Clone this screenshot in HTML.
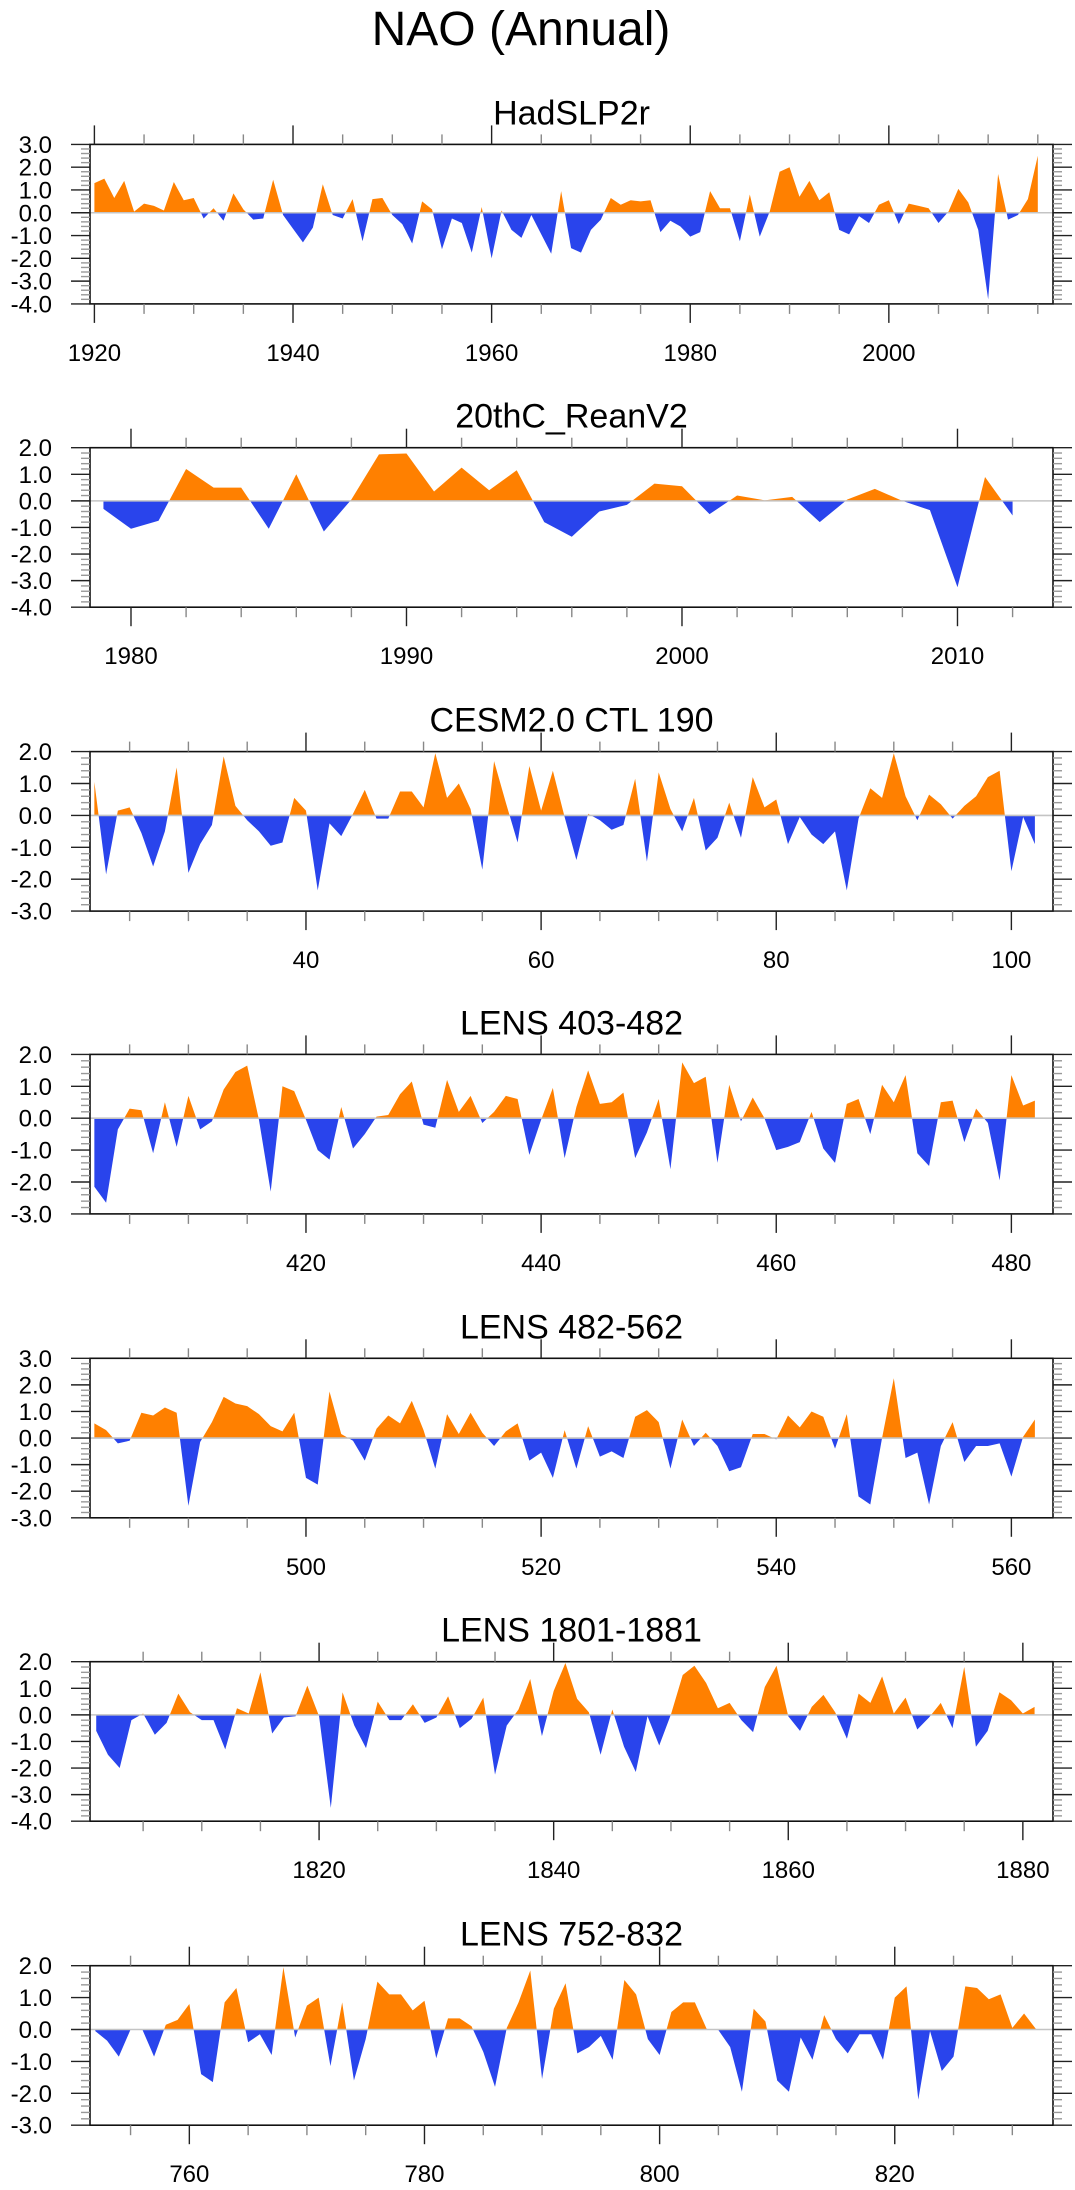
<!DOCTYPE html>
<html><head><meta charset="utf-8"><title>NAO (Annual)</title>
<style>
html,body{margin:0;padding:0;background:#fff;}
svg{display:block;font-family:"Liberation Sans",Arial,sans-serif;}
</style></head>
<body>
<svg id="chart" xmlns="http://www.w3.org/2000/svg" width="1075" height="2190" viewBox="0 0 1075 2190">
<rect x="0" y="0" width="1075" height="2190" fill="#fff"/>
<text x="521" y="45" font-size="48" text-anchor="middle" fill="#000">NAO (Annual)</text>
</svg>
<script>
// ---- data ----
const panelTitles = ["HadSLP2r","20thC_ReanV2","CESM2.0 CTL 190","LENS 403-482","LENS 482-562","LENS 1801-1881","LENS 752-832"];
const startYears = [1920,1979,22,402,482,1801,752];
const hadslp2r = [1.3,1.5,0.65,1.4,0.05,0.4,0.3,0.1,1.35,0.55,
0.65,-0.25,0.2,-0.35,0.85,0.15,-0.3,-0.25,1.45,-0.1,
-0.7,-1.3,-0.65,1.25,-0.1,-0.25,0.6,-1.25,0.6,0.65,
-0.1,-0.5,-1.35,0.5,0.15,-1.6,-0.25,-0.45,-1.75,0.25,
-2.0,0.1,-0.75,-1.1,-0.1,-0.95,-1.8,0.95,-1.55,-1.75,
-0.75,-0.3,0.65,0.35,0.55,0.5,0.55,-0.85,-0.35,-0.6,
-1.05,-0.85,0.95,0.2,0.2,-1.25,0.8,-1.05,0.05,1.8,
2.0,0.7,1.4,0.55,0.9,-0.75,-0.95,-0.15,-0.45,0.35,
0.55,-0.5,0.4,0.3,0.2,-0.45,0.05,1.05,0.45,-0.75,
-3.8,1.7,-0.3,-0.1,0.6,2.5];
const reanV2 = [-0.3,-1.05,-0.75,1.2,0.5,0.5,-1.05,1.0,-1.15,0.05,
1.75,1.78,0.35,1.25,0.4,1.15,-0.8,-1.35,-0.4,-0.15,
0.65,0.55,-0.5,0.2,0.02,0.15,-0.8,0.05,0.45,0.0,
-0.35,-3.25,0.9,-0.55];
const cesmCtl = [1.05,-1.85,0.15,0.25,-0.55,-1.6,-0.5,1.5,-1.8,-0.9,
-0.3,1.85,0.3,-0.15,-0.5,-0.95,-0.85,0.55,0.15,-2.35,
-0.25,-0.65,0.05,0.8,-0.1,-0.1,0.75,0.75,0.25,1.95,
0.55,1.0,0.2,-1.7,1.7,0.4,-0.85,1.55,0.15,1.4,
-0.05,-1.4,0.05,-0.15,-0.45,-0.3,1.15,-1.45,1.35,0.2,
-0.5,0.55,-1.1,-0.7,0.4,-0.7,1.2,0.25,0.5,-0.9,
-0.05,-0.6,-0.9,-0.5,-2.35,-0.1,0.85,0.55,1.95,0.6,
-0.15,0.65,0.35,-0.1,0.3,0.6,1.2,1.4,-1.75,-0.05,
-0.9];
const lens403 = [-2.15,-2.65,-0.35,0.3,0.25,-1.1,0.5,-0.9,0.7,-0.35,
-0.1,0.9,1.45,1.65,-0.05,-2.3,1.0,0.85,-0.05,-1.0,
-1.3,0.35,-0.95,-0.5,0.05,0.1,0.75,1.15,-0.2,-0.3,
1.2,0.2,0.7,-0.15,0.2,0.7,0.6,-1.15,-0.05,0.95,
-1.25,0.35,1.5,0.45,0.5,0.8,-1.25,-0.45,0.6,-1.6,
1.75,1.1,1.3,-1.4,1.05,-0.1,0.65,0.0,-1.0,-0.9,
-0.75,0.2,-0.95,-1.4,0.45,0.6,-0.5,1.05,0.5,1.35,
-1.1,-1.5,0.5,0.55,-0.75,0.3,-0.15,-1.95,1.35,0.4,
0.55];
const lens482 = [0.55,0.3,-0.2,-0.1,0.95,0.85,1.15,0.95,-2.55,-0.15,
0.6,1.55,1.3,1.2,0.9,0.45,0.25,0.95,-1.5,-1.75,
1.75,0.15,-0.1,-0.85,0.35,0.85,0.55,1.4,0.3,-1.15,
0.9,0.15,0.95,0.2,-0.3,0.25,0.55,-0.85,-0.55,-1.5,
0.3,-1.15,0.45,-0.7,-0.5,-0.75,0.8,1.05,0.6,-1.15,
0.7,-0.3,0.2,-0.3,-1.25,-1.1,0.15,0.15,-0.05,0.85,
0.4,1.0,0.8,-0.4,0.9,-2.2,-2.5,0.0,2.25,-0.75,
-0.55,-2.5,-0.3,0.6,-0.9,-0.3,-0.3,-0.2,-1.45,0.05,
0.7];
const lens1801 = [-0.6,-1.5,-2.0,-0.2,0.05,-0.75,-0.3,0.8,0.1,-0.2,
-0.2,-1.3,0.25,0.05,1.6,-0.7,-0.1,-0.05,1.1,-0.05,
-3.5,0.85,-0.4,-1.25,0.5,-0.2,-0.2,0.4,-0.3,-0.1,
0.7,-0.5,-0.15,0.65,-2.25,-0.4,0.2,1.35,-0.8,0.9,
1.95,0.6,0.1,-1.5,0.2,-1.2,-2.15,-0.05,-1.15,0.02,
1.5,1.85,1.2,0.25,0.45,-0.2,-0.65,1.05,1.85,-0.05,
-0.6,0.3,0.75,0.1,-0.9,0.8,0.45,1.45,0.05,0.65,
-0.55,-0.1,0.45,-0.5,1.8,-1.2,-0.6,0.85,0.55,0.05,
0.3];
const lens752 = [-0.05,-0.35,-0.85,0.0,0.0,-0.85,0.15,0.3,0.8,-1.4,
-1.65,0.85,1.3,-0.4,-0.15,-0.8,1.95,-0.25,0.75,1.0,
-1.15,0.85,-1.6,-0.3,1.5,1.1,1.1,0.6,0.9,-0.9,
0.35,0.35,0.1,-0.7,-1.8,0.05,0.85,1.85,-1.55,0.65,
1.45,-0.75,-0.55,-0.2,-0.95,1.55,1.1,-0.3,-0.8,0.55,
0.85,0.85,0.02,-0.02,-0.55,-1.95,0.65,0.25,-1.6,-1.95,
-0.25,-0.95,0.45,-0.3,-0.75,-0.15,-0.15,-0.95,1.0,1.35,
-2.2,-0.05,-1.3,-0.85,1.35,1.3,0.95,1.1,0.05,0.5,
0.02];
const seriesValues = [hadslp2r, reanV2, cesmCtl, lens403, lens482, lens1801, lens752];
// axis ranges
const yMinVals = [-4,-4,-3,-3,-3,-4,-3];
const yMaxVals = [3,2,2,2,3,2,2];
const xMinVals = [1919.557,1978.512,21.63,401.63,481.63,1800.47,751.55];
const xMaxVals = [2016.53,2013.467,103.54,483.54,563.54,1882.57,833.46];
const xMajorStep = [20,10,20,20,20,20,20];
const xMinorStep = [5,2,5,5,5,5,5];

// ---- layout ----
const NS = "http://www.w3.org/2000/svg";
const svg = document.getElementById("chart");
const panelTops = [144.4,447.7,751.6,1054.4,1358.3,1661.7,1965.7];
const PH = 159.5, PL = 90, PR = 1053;
const ORANGE = "#ff8000", BLUE = "#2944ec";

function mk(tag, attrs, parent){
  const e = document.createElementNS(NS, tag);
  for (const k in attrs) e.setAttribute(k, attrs[k]);
  (parent || svg).appendChild(e);
  return e;
}

for (let k = 0; k < seriesValues.length; k++) {
  const T = panelTops[k], B = T + PH;
  const x0 = xMinVals[k], x1 = xMaxVals[k], y0 = yMinVals[k], y1 = yMaxVals[k];
  const sx = v => PL + (v - x0) / (x1 - x0) * (PR - PL);
  const sy = v => T + (y1 - v) / (y1 - y0) * (B - T);
  const g = mk("g", {});
  
  

  const title = mk("text", {x: (PL + PR) / 2, y: T - 20, "font-size": 34, "text-anchor": "middle", fill: "#000"}, g);
  title.textContent = panelTitles[k];
  
  

  const z = sy(0);
  const defs = mk("defs", {}, g);
  const ca = mk("clipPath", {id: "above" + k}, defs);
  mk("rect", {x: PL, y: T, width: PR - PL, height: z - T}, ca);
  const cb = mk("clipPath", {id: "below" + k}, defs);
  mk("rect", {x: PL, y: z, width: PR - PL, height: B - z}, cb);

  const vals = seriesValues[k];
  let d = "M" + sx(startYears[k]).toFixed(2) + "," + z.toFixed(2);
  for (let i = 0; i < vals.length; i++) {
    d += " L" + sx(startYears[k] + i).toFixed(2) + "," + sy(vals[i]).toFixed(2);
  }
  d += " L" + sx(startYears[k] + vals.length - 1).toFixed(2) + "," + z.toFixed(2) + " Z";

  const pos = mk("path", {d: d, fill: ORANGE, "clip-path": "url(#above" + k + ")"}, g);
  
  
  const neg = mk("path", {d: d, fill: BLUE, "clip-path": "url(#below" + k + ")"}, g);
  
  

  const zl = mk("line", {x1: PL, x2: PR, y1: z, y2: z, stroke: "#c4c4c4", "stroke-width": 1.6}, g);
  
  

  const box = mk("rect", {x: PL, y: T, width: PR - PL, height: PH, fill: "none", stroke: "#111", "stroke-width": 1.6}, g);
  
  

  // x ticks
  const mi = xMinorStep[k], ma = xMajorStep[k];
  for (let t = Math.ceil(x0 / mi) * mi; t <= x1; t += mi) {
    const X = sx(t);
    const major = (t % ma) === 0;
    const len = major ? 19 : 10;
    const col = major ? "#222" : "#888";
    mk("line", {x1: X, x2: X, y1: B, y2: B + len, stroke: col, "stroke-width": 1.4}, g);
    mk("line", {x1: X, x2: X, y1: T, y2: T - len, stroke: col, "stroke-width": 1.4}, g);
    if (major) {
      const lb = mk("text", {x: X, y: B + 57, "font-size": 24, "text-anchor": "middle", fill: "#000"}, g);
      lb.textContent = String(t);
      
      
    }
  }
  // y ticks
  const nMinor = Math.round((y1 - y0) * 5);
  for (let i = 0; i <= nMinor; i++) {
    const v = y0 + i * 0.2;
    const Y = sy(v);
    const major = (i % 5) === 0;
    const len = major ? 19 : 9;
    const col = major ? "#222" : "#999";
    mk("line", {x1: PL - len, x2: PL, y1: Y, y2: Y, stroke: col, "stroke-width": 1.4}, g);
    mk("line", {x1: PR, x2: PR + len, y1: Y, y2: Y, stroke: col, "stroke-width": 1.4}, g);
    if (major) {
      const lb = mk("text", {x: 52, y: Y + 8.5, "font-size": 24, "text-anchor": "end", fill: "#000"}, g);
      lb.textContent = (Math.round(v * 10) / 10).toFixed(1);
      
      
    }
  }
}
</script>
</body></html>
